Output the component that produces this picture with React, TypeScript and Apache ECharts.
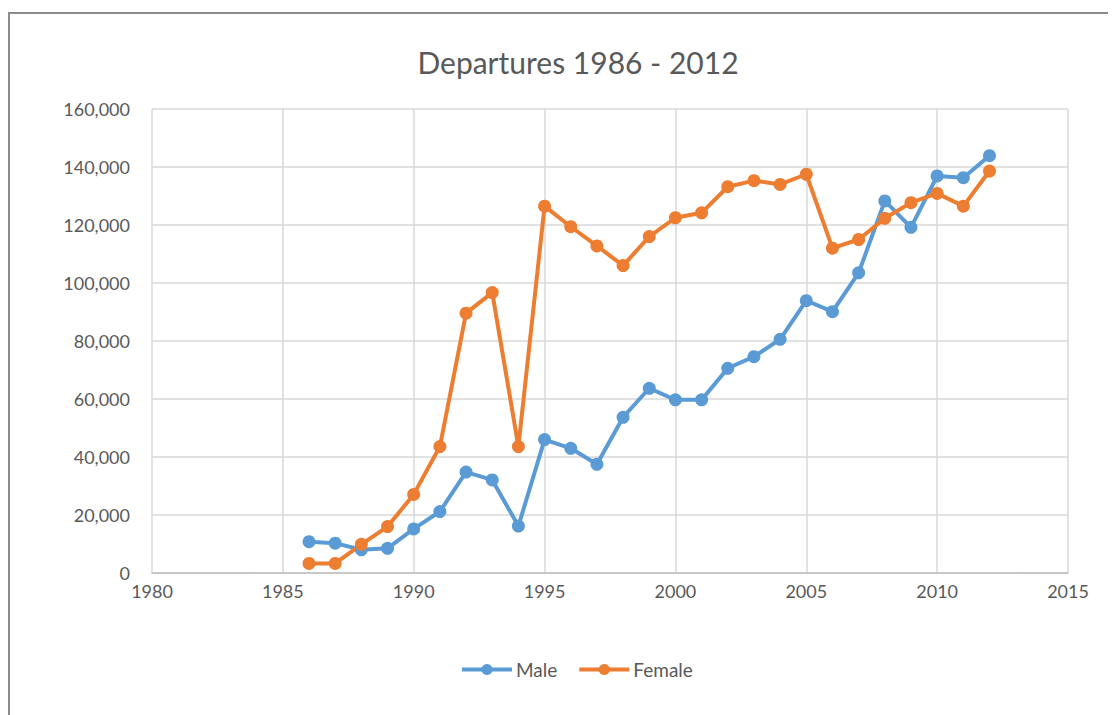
import React, { useEffect, useRef } from "react";
import * as echarts from "echarts";

const years = [1986, 1987, 1988, 1989, 1990, 1991, 1992, 1993, 1994, 1995, 1996, 1997, 1998, 1999, 2000, 2001, 2002, 2003, 2004, 2005, 2006, 2007, 2008, 2009, 2010, 2011, 2012];
const male = [10800, 10300, 8000, 8500, 15200, 21200, 34800, 32100, 16200, 46000, 43000, 37500, 53700, 63700, 59700, 59700, 70600, 74600, 80600, 93900, 90100, 103500, 128300, 119200, 136900, 136300, 143900];
const female = [3300, 3300, 9900, 16000, 27100, 43600, 89600, 96700, 43600, 126500, 119400, 112800, 106000, 116000, 122500, 124200, 133200, 135300, 134000, 137500, 112000, 115000, 122300, 127700, 130900, 126500, 138600];
const titleText = "Departures 1986 - 2012";
const seriesNames = ["Male", "Female"];
const colors = ["#5b9bd5", "#ed7d31"];

export default function App() {
  const ref = useRef<HTMLDivElement>(null);
  useEffect(() => {
    if (!ref.current) return;
    const chart = echarts.init(ref.current, null, { renderer: "svg" });
    const font = "Lato, 'Open Sans', sans-serif";
    const mk = (name: string, vals: number[], color: string) => ({
      name,
      type: "line",
      data: years.map((y, i) => [y, vals[i]]),
      symbol: "circle",
      symbolSize: 13,
      showSymbol: true,
      lineStyle: { width: 4, color },
      itemStyle: { color },
      emphasis: { disabled: true },
    });
    chart.setOption({
      animation: false,
      color: colors,
      textStyle: { fontFamily: font },
      title: {
        text: titleText,
        left: 565,
        top: 34,
        textAlign: "center",
        textStyle: { fontSize: 30, fontWeight: "normal", color: "#595959", fontFamily: font },
      },
      legend: {
        data: seriesNames,
        bottom: 36,
        left: 452,
        padding: 0,
        itemWidth: 50,
        itemHeight: 14,
        itemGap: 20,
        lineStyle: { width: 4 },
        textStyle: { fontSize: 19, color: "#595959", fontFamily: font, padding: [0, 0, 0, -1] },
      },
      grid: { left: 144, right: 48, top: 101, bottom: 142, containLabel: false },
      xAxis: {
        type: "value",
        min: 1980,
        max: 2015,
        interval: 5,
        axisLine: { show: true, lineStyle: { color: "#bfbfbf", width: 1.5 } },
        axisTick: { show: false },
        splitLine: { show: true, lineStyle: { color: "#d9d9d9", width: 1.5 } },
        axisLabel: { color: "#595959", fontSize: 18, margin: 9, fontFamily: font, formatter: (v: number) => String(v) },
      },
      yAxis: {
        type: "value",
        min: 0,
        max: 160000,
        interval: 20000,
        axisLine: { show: false },
        axisTick: { show: false },
        splitLine: { show: true, lineStyle: { color: "#d9d9d9", width: 1.5 } },
        axisLabel: {
          color: "#595959",
          fontSize: 18,
          margin: 22,
          fontFamily: font,
          formatter: (v: number) => v.toLocaleString("en-US"),
        },
      },
      graphic: [
        {
          type: "rect",
          shape: { x: 1, y: 5, width: 1300, height: 900 },
          style: { fill: "none", stroke: "#8c8c8c", lineWidth: 2 },
          silent: true,
        },
      ],
      series: [mk(seriesNames[0], male, colors[0]), mk(seriesNames[1], female, colors[1])],
    });
    return () => chart.dispose();
  }, []);
  return <div ref={ref} style={{ width: 1108, height: 707 }} />;
}
